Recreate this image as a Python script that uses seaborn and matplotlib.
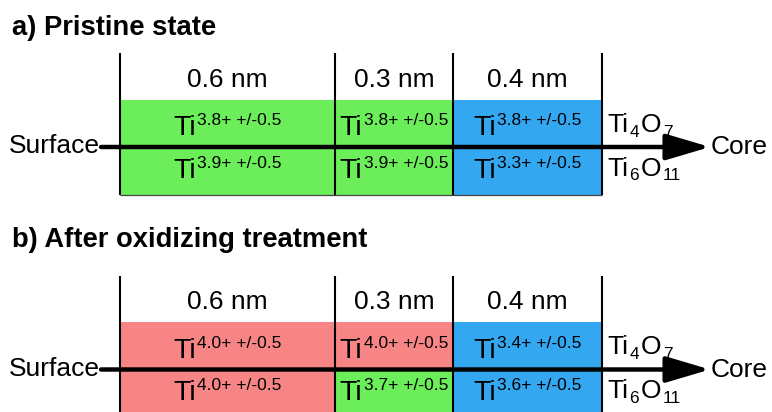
import matplotlib
matplotlib.use("Agg")
import matplotlib.pyplot as plt
import numpy as np
import pandas as pd
import seaborn as sns

# ---------------- data ----------------
panel_titles = ["a) Pristine state", "b) After oxidizing treatment"]
layer_labels = ["0.6 nm", "0.3 nm", "0.4 nm"]
ox_uncertainty = 0.5
# oxidation states (upper row = Ti4O7 reference, lower row = Ti6O11 reference)
pristine_upper = [3.8, 3.8, 3.8]
pristine_lower = [3.9, 3.9, 3.3]
oxidized_upper = [4.0, 4.0, 3.4]
oxidized_lower = [4.0, 3.7, 3.6]
# colour category of every cell
pristine_upper_kind = ["mixed", "mixed", "core"]
pristine_lower_kind = ["mixed", "mixed", "core"]
oxidized_upper_kind = ["oxidized", "oxidized", "core"]
oxidized_lower_kind = ["oxidized", "mixed", "core"]
core_phase_upper = [("Ti", "4"), ("O", "7")]
core_phase_lower = [("Ti", "6"), ("O", "11")]
end_labels = ["Surface", "Core"]
kind_colors = {"mixed": "#6CEE5A", "oxidized": "#F78585", "core": "#33A7F0"}

# ---------------- layout (pixels) ----------------
W, H = 772, 412
X0 = 120                        # left edge of the layer boxes
BOX_EDGES = [0, 215, 333, 482]  # schematic (not to scale) box edges
PANEL_DY = [0, 222.5]
LINE_TOP, BAND_TOP, AXIS_Y, BAND_BOT = 53, 100, 147, 195

sns.set_theme(style="white")
plt.rcParams["font.family"] = ["Liberation Sans", "DejaVu Sans"]
plt.rcParams["text.color"] = "black"

fig = plt.figure(figsize=(W / 100, H / 100), dpi=100)
ax = fig.add_axes([0, 0, 1, 1])

# build the cell table
panels = [
    (pristine_upper, pristine_lower, pristine_upper_kind, pristine_lower_kind),
    (oxidized_upper, oxidized_lower, oxidized_upper_kind, oxidized_lower_kind),
]
rows = []
for p, (up, lo, uk, lk) in enumerate(panels):
    dy = PANEL_DY[p]
    yc_up = (BAND_TOP + AXIS_Y) / 2 + dy
    yc_lo = (AXIS_Y + BAND_BOT) / 2 + dy
    for j in range(3):
        rows.append(dict(panel=p, layer=j, ypos=yc_up, right=BOX_EDGES[j + 1],
                         cell=f"{p}-u-{j}", kind=uk[j], ox=up[j]))
        rows.append(dict(panel=p, layer=j, ypos=yc_lo, right=BOX_EDGES[j + 1],
                         cell=f"{p}-l-{j}", kind=lk[j], ox=lo[j]))
cells = pd.DataFrame(rows)
palette = {r.cell: kind_colors[r.kind] for r in cells.itertuples()}

# overlayed bars (stack from the core side toward the surface)
for layer in [2, 1, 0]:
    sub = cells[cells.layer == layer]
    sns.barplot(data=sub, x="right", y="ypos", hue="cell", palette=palette,
                orient="h", native_scale=True, dodge=False, width=1.0,
                saturation=1, linewidth=0, legend=False, ax=ax)

ax.set_xlim(-X0, W - X0)
ax.set_ylim(H, 0)
ax.axis("off")

renderer = fig.canvas.get_renderer()


def draw_pieces(x, y, pieces, ha="left", weight="normal"):
    texts = []
    for s, size, off in pieces:
        t = ax.text(0, y + off, s, fontsize=size, va="baseline", ha="left",
                    color="black", fontweight=weight)
        texts.append(t)
    widths = [t.get_window_extent(renderer).width for t in texts]
    total = sum(widths) + 1.5 * (len(widths) - 1)
    cur = x - total / 2 if ha == "center" else (x - total if ha == "right" else x)
    for t, w in zip(texts, widths):
        t.set_x(cur)
        cur += w + 1.5


for p in range(2):
    dy = PANEL_DY[p]
    # title
    fig.text(12 / W, 1 - (35 + (211.7 if p else 0)) / H, panel_titles[p],
             fontsize=19.7, fontweight="bold", va="baseline", ha="left",
             color="black")
    # vertical separators
    ax.vlines(BOX_EDGES, LINE_TOP + dy, min(BAND_BOT + dy, H + 10),
              color="black", lw=1.5, zorder=3)
    if BAND_BOT + dy < H:
        ax.hlines(BAND_BOT + dy, 0, BOX_EDGES[-1], color="#444444", lw=0.9, zorder=3)
    # layer thickness labels
    for j in range(3):
        xc = (BOX_EDGES[j] + BOX_EDGES[j + 1]) / 2
        ax.text(xc, 86.7 + dy, layer_labels[j], fontsize=19, ha="center",
                va="baseline", color="black")
    # oxidation-state labels
    sub = cells[cells.panel == p]
    for r in sub.itertuples():
        xc = (BOX_EDGES[r.layer] + BOX_EDGES[r.layer + 1]) / 2
        base = (135 if "-u-" in r.cell else 178) + dy
        draw_pieces(xc, base, [("Ti", 20.5, 0),
                               (f"{r.ox:.1f}+ +/-{ox_uncertainty}", 12.5, -10)],
                    ha="center")
    # core phase labels
    for phase, base in [(core_phase_upper, 132), (core_phase_lower, 175.7)]:
        pieces = []
        for el, n in phase:
            pieces.append((el, 19, 0))
            pieces.append((n, 12.5, 4.7))
        draw_pieces(BOX_EDGES[-1] + 5, base + dy, pieces)
    # surface -> core axis arrow
    ax.annotate("", xy=(710 - X0, AXIS_Y + dy), xytext=(101 - X0, AXIS_Y + dy),
                arrowprops=dict(arrowstyle="-|>,head_length=2.7,head_width=0.8",
                                lw=3.2, color="black", shrinkA=0, shrinkB=0,
                                mutation_scale=10), zorder=4)
    ax.text(100 - X0, 153.3 + dy, end_labels[0], fontsize=19, ha="right",
            va="baseline", color="black")
    ax.text(711 - X0, 154.3 + dy, end_labels[1], fontsize=19, ha="left",
            va="baseline", color="black")

fig.savefig("out.png", dpi=100)
